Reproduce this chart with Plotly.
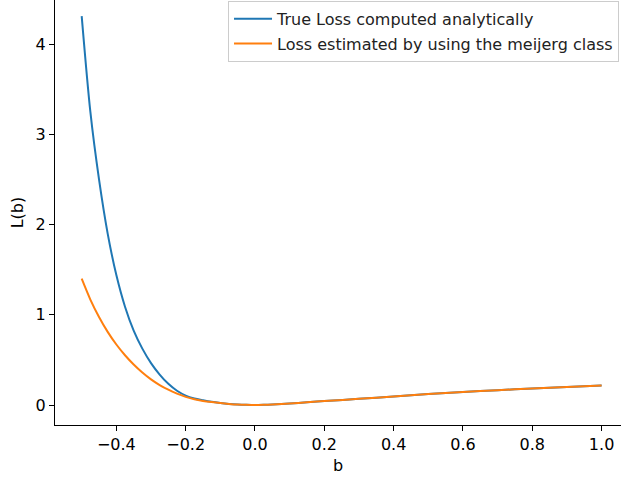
import plotly.graph_objects as go

# b values (x)
b_vals = [-0.5, -0.475, -0.45, -0.425, -0.4, -0.375, -0.35, -0.325, -0.3, -0.275,
          -0.25, -0.225, -0.2, -0.175, -0.15, -0.125, -0.1, -0.075, -0.05, -0.025,
          0.0, 0.025, 0.05, 0.1, 0.15, 0.2, 0.3, 0.4, 0.5, 0.6, 0.7, 0.8, 0.9, 1.0]

# True loss computed analytically
true_loss = [4.31, 3.25, 2.50, 1.90, 1.44, 1.09, 0.825, 0.625, 0.465, 0.338,
             0.235, 0.158, 0.105, 0.073, 0.053, 0.036, 0.023, 0.013, 0.006, 0.002,
             0.0, 0.002, 0.006, 0.018, 0.03, 0.044, 0.069, 0.095, 0.122, 0.145, 0.165, 0.184, 0.201, 0.217]

# Loss estimated with the meijerg class
meijerg_loss = [1.40, 1.169, 0.976, 0.811, 0.671, 0.552, 0.450, 0.361, 0.285, 0.222,
                0.170, 0.127, 0.091, 0.064, 0.046, 0.033, 0.022, 0.013, 0.006, 0.002,
                0.0, 0.002, 0.006, 0.018, 0.03, 0.044, 0.069, 0.095, 0.122, 0.145, 0.165, 0.184, 0.201, 0.217]

x_ticks = [-0.4, -0.2, 0.0, 0.2, 0.4, 0.6, 0.8, 1.0]
y_ticks = [0, 1, 2, 3, 4]

font_family = "DejaVu Sans"

fig = go.Figure()
fig.add_trace(go.Scatter(x=b_vals, y=true_loss, mode="lines",
                         line=dict(color="#1f77b4", width=2, shape="spline", smoothing=0.8),
                         name="True Loss computed analytically", legendgroup="a"))
fig.add_trace(go.Scatter(x=b_vals, y=meijerg_loss, mode="lines",
                         line=dict(color="#ff7f0e", width=2, shape="spline", smoothing=0.8),
                         name="Loss estimated by using the meijerg class", legendgroup="b"))

fig.update_layout(
    width=621, height=479,
    margin=dict(l=55, r=0, t=0, b=54, autoexpand=False),
    paper_bgcolor="white", plot_bgcolor="white",
    font=dict(family=font_family, size=16, color="black"),
    showlegend=True,
    legend=dict(x=0.9965, y=0.998, xanchor="right", yanchor="top",
                bgcolor="rgba(255,255,255,0.8)", bordercolor="#cccccc", borderwidth=1,
                font=dict(family=font_family, size=16, color="#222222"),
                itemwidth=38,
                traceorder="grouped", tracegroupgap=1),
    xaxis=dict(range=[-0.577, 1.056], tickvals=x_ticks, tickformat=".1f",
               automargin=False,
               showline=True, linecolor="black", linewidth=1, mirror=False,
               ticks="outside", ticklen=5, tickwidth=1, tickcolor="black",
               showgrid=False, zeroline=False,
               title=dict(text="b", standoff=6, font=dict(size=16))),
    yaxis=dict(range=[-0.221, 4.488], tickvals=y_ticks, tickformat="d",
               automargin=False,
               showline=True, linecolor="black", linewidth=1, mirror=False,
               ticks="outside", ticklen=5, tickwidth=1, tickcolor="black",
               showgrid=False, zeroline=False,
               title=dict(text="L(b)", standoff=8, font=dict(size=16))),
)

fig.write_html("out.html", config={"displayModeBar": False},
               post_script="document.body.style.margin='0';document.body.style.overflow='hidden';")
